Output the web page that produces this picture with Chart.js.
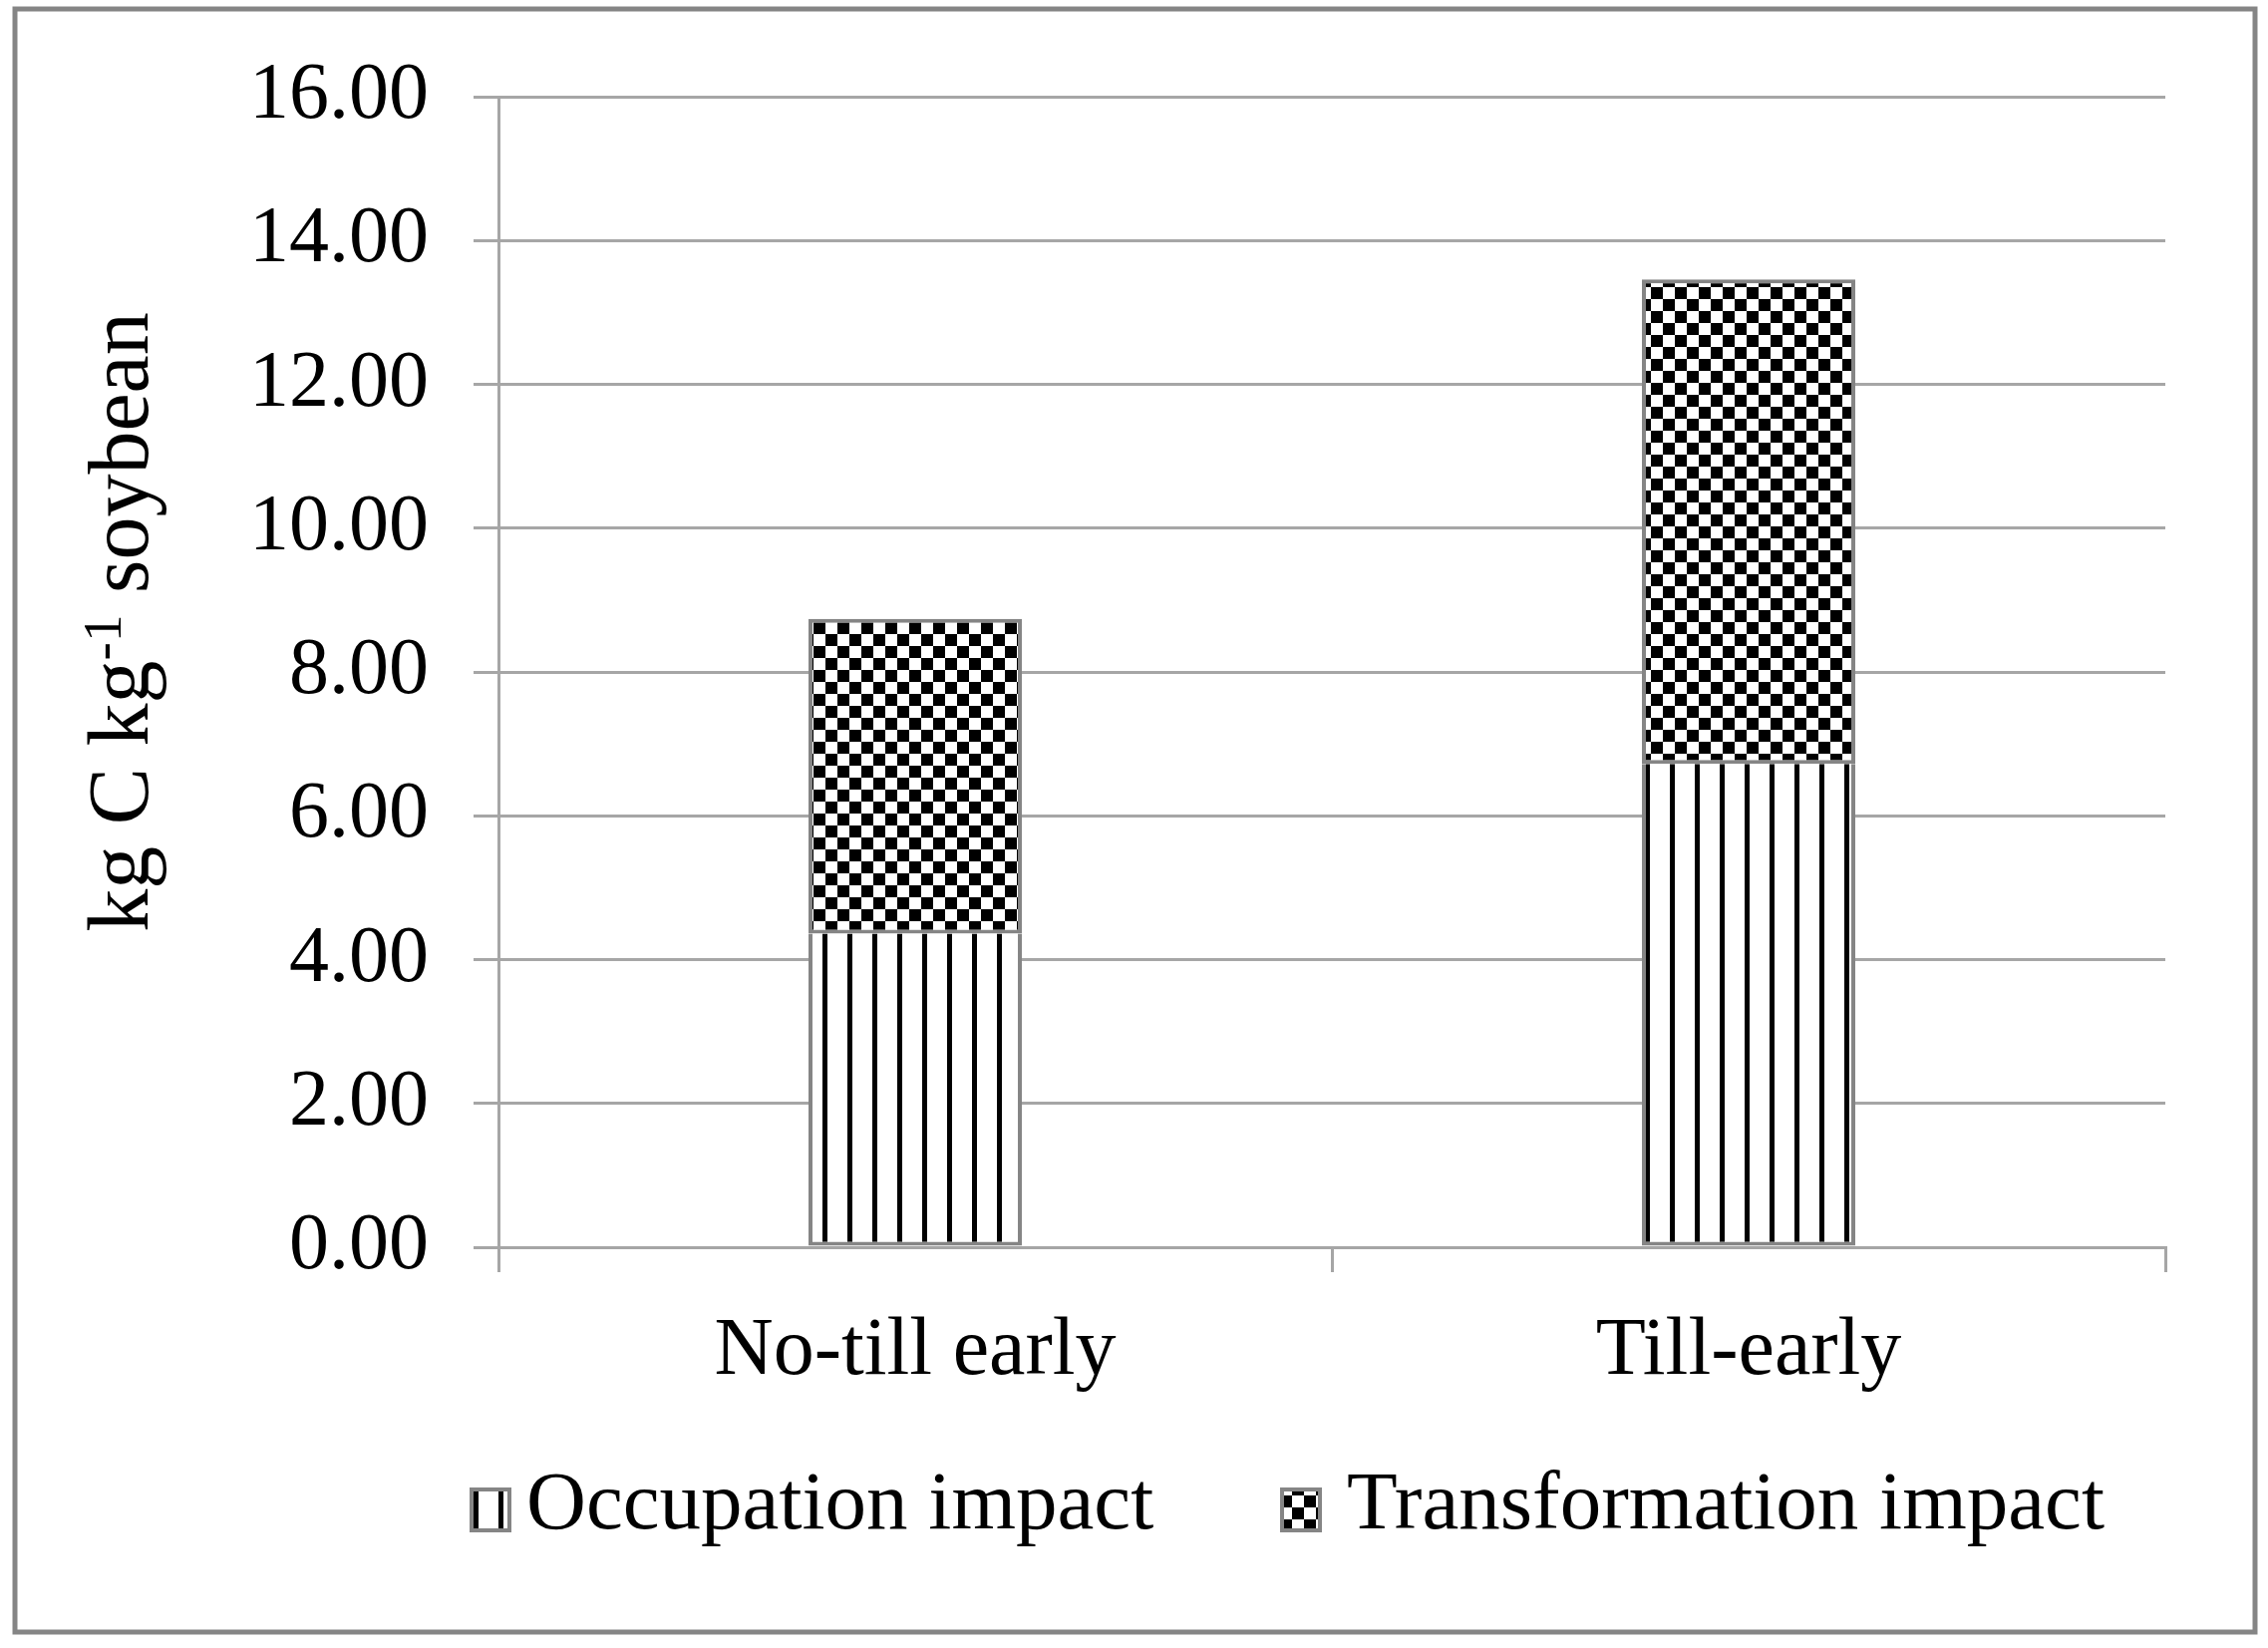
<!DOCTYPE html>
<html>
<head>
<meta charset="utf-8">
<title>Land use impact</title>
<script src="https://cdn.jsdelivr.net/npm/chart.js@4.4.1/dist/chart.umd.min.js"></script>
<style>
  html, body { margin: 0; padding: 0; background: #fff; }
  #c { display: block; }
</style>
</head>
<body>
<canvas id="c" width="2275" height="1653"></canvas>
<script>
// data
var categories = ['No-till early', 'Till-early'];
var occupation = [4.36, 6.72];
var transformation = [4.38, 6.74];
var seriesNames = ['Occupation impact', 'Transformation impact'];
var yTicks = [0, 2, 4, 6, 8, 10, 12, 14, 16];

var serif = '"Liberation Serif", "Times New Roman", serif';
var gray = '#a6a6a6';
var edge = '#858585';

// fill patterns like the excel ones
function stripes() {
    var c = document.createElement('canvas');
    c.width = 25; c.height = 25;
    var g = c.getContext('2d');
    g.fillStyle = '#fff';
    g.fillRect(0, 0, 25, 25);
    g.fillStyle = '#000';
    g.fillRect(0, 0, 5, 25);
    return g.createPattern(c, 'repeat');
}
function checker() {
    var c = document.createElement('canvas');
    c.width = 24; c.height = 24;
    var g = c.getContext('2d');
    g.fillStyle = '#fff';
    g.fillRect(0, 0, 24, 24);
    g.fillStyle = '#000';
    g.fillRect(0, 0, 12, 12);
    g.fillRect(12, 12, 12, 12);
    return g.createPattern(c, 'repeat');
}

// outer frame of the figure
var frame = {
    id: 'frame',
    afterDraw: function(chart) {
        var ctx = chart.ctx;
        ctx.save();
        ctx.strokeStyle = edge;
        ctx.lineWidth = 5;
        ctx.strokeRect(15, 9, 2247, 1628);
        ctx.restore();
    }
};

// y title with a real superscript
var yTitle = {
    id: 'yTitle',
    afterDraw: function(chart) {
        var ctx = chart.ctx;
        var big = '86px ' + serif, small = '55px ' + serif;
        var a = 'kg C kg', sup = '-1', b = ' soybean';
        ctx.save();
        ctx.font = big;
        var wa = ctx.measureText(a).width, wb = ctx.measureText(b).width;
        ctx.font = small;
        var ws = ctx.measureText(sup).width;
        var total = wa + ws + wb;
        ctx.translate(148, 624);
        ctx.rotate(-Math.PI / 2);
        ctx.fillStyle = '#000';
        ctx.textBaseline = 'alphabetic';
        ctx.textAlign = 'left';
        var x = -total / 2;
        ctx.font = big;
        ctx.fillText(a, x, 0);
        ctx.font = small;
        ctx.fillText(sup, x + wa, -27);
        ctx.font = big;
        ctx.fillText(b, x + wa + ws, 0);
        ctx.restore();
    }
};

// legend in one row, spaced like the original
var legendRow = {
    id: 'legendRow',
    afterDraw: function(chart) {
        var ctx = chart.ctx;
        var spots = [{ box: 473, text: 528 }, { box: 1286, text: 1351 }];
        ctx.save();
        chart.data.datasets.forEach(function(ds, i) {
            var s = spots[i];
            ctx.fillStyle = ds.backgroundColor;
            ctx.fillRect(s.box, 1494, 38, 41);
            ctx.strokeStyle = edge;
            ctx.lineWidth = 4;
            ctx.strokeRect(s.box, 1494, 38, 41);
            ctx.fillStyle = '#000';
            ctx.font = '83px ' + serif;
            ctx.textBaseline = 'middle';
            ctx.textAlign = 'left';
            ctx.fillText(ds.label, s.text, 1511);
        });
        ctx.restore();
    }
};

var ctx = document.getElementById('c');
var chart = new Chart(ctx, {
    type: 'bar',
    data: {
        labels: categories,
        datasets: [{
            label: seriesNames[0],
            data: occupation,
            backgroundColor: stripes(),
            borderColor: edge,
            borderWidth: 4,
            borderSkipped: 'top',
            barPercentage: 0.256,
            categoryPercentage: 1
        }, {
            label: seriesNames[1],
            data: transformation,
            backgroundColor: checker(),
            borderColor: edge,
            borderWidth: 4,
            borderSkipped: false,
            barPercentage: 0.256,
            categoryPercentage: 1
        }]
    },
    options: {
        responsive: false,
        animation: false,
        devicePixelRatio: 1,
        layout: { padding: { left: 0, right: 103, top: 97, bottom: 242 } },
        plugins: {
            legend: { display: false },
            tooltip: { enabled: false }
        },
        scales: {
            x: {
                stacked: true,
                grid: {
                    offset: true,
                    drawOnChartArea: false,
                    drawTicks: true,
                    tickLength: 25,
                    color: gray,
                    lineWidth: 3
                },
                border: { display: true, color: gray, width: 3 },
                ticks: {
                    color: '#000',
                    font: { family: serif, size: 82 },
                    padding: 31,
                    maxRotation: 0
                },
                afterFit: function(s) { s.height = 160; }
            },
            y: {
                stacked: true,
                min: yTicks[0],
                max: yTicks[yTicks.length - 1],
                afterBuildTicks: function(s) {
                    s.ticks = yTicks.map(function(v) { return { value: v }; });
                },
                grid: {
                    drawTicks: true,
                    tickLength: 25,
                    color: gray,
                    lineWidth: 3
                },
                border: { display: true, color: gray, width: 3 },
                ticks: {
                    color: '#000',
                    font: { family: serif, size: 80 },
                    padding: 45,
                    callback: function(v) { return Number(v).toFixed(2); }
                },
                afterFit: function(s) { s.width = 500; }
            }
        }
    },
    plugins: [frame, yTitle, legendRow]
});
</script>
</body>
</html>
